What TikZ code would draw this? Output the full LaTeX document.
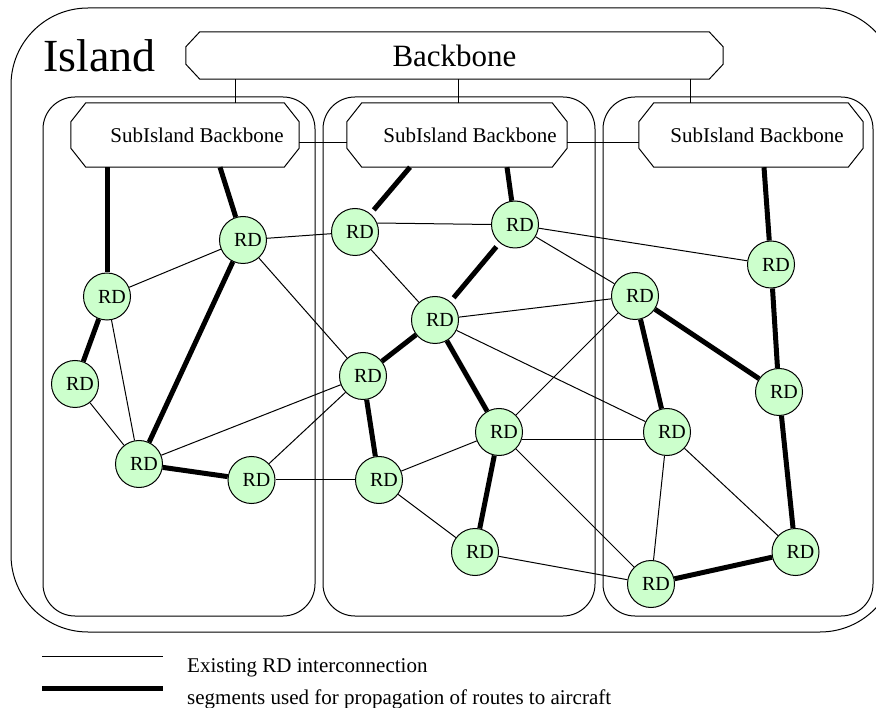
\documentclass[tikz,border=0pt]{standalone}
\usepackage{fontspec}
\setmainfont{Liberation Serif}
\definecolor{rdfill}{RGB}{204,255,204}
\pgfdeclarelayer{links}
\pgfsetlayers{links,main}
% outline of a box with cut corners around a named node
\newcommand{\octobox}[3]{%
  \draw[line width=1pt]
    ([xshift=#2]#1.north west) -- ([xshift=-#2]#1.north east)
    -- ([yshift=-#3]#1.north east) -- ([yshift=#3]#1.south east)
    -- ([xshift=-#2]#1.south east) -- ([xshift=#2]#1.south west)
    -- ([yshift=#3]#1.south west) -- ([yshift=-#3]#1.north west) -- cycle;}
\begin{document}
\begin{tikzpicture}[x=1pt,y=-1pt,
  thinlink/.style={line width=1pt},
  route/.style={line width=5pt},
  region/.style={draw, line width=1pt, rounded corners=32pt},
  rd/.style={circle, draw, line width=1pt, fill=rdfill, minimum size=47pt,
    inner sep=0pt, font=\fontsize{20}{20}\selectfont},
  backbone/.style={rectangle, inner sep=0pt,
    minimum width=537pt, minimum height=47pt, font=\fontsize{31}{31}\selectfont},
  subbackbone/.style={rectangle, inner sep=0pt, minimum height=64pt},
  sbtext/.style={font=\fontsize{21}{21}\selectfont, inner sep=0pt},
  legendtext/.style={anchor=base west, inner sep=0pt, font=\fontsize{21}{21}\selectfont}
]
\useasboundingbox (0,0) rectangle (876,708);

% island outline (continues past the right edge)
\begin{scope}
  \clip (0,0) rectangle (876,708);
  \draw[line width=1pt, rounded corners=77pt] (11,8) rectangle (897,632);
\end{scope}

% sub-island regions
\draw[region] (43,97) rectangle (315,616);
\draw[region] (323,97) rectangle (595,616);
\draw[region] (603,97) rectangle (873,616);

% titles and backbones
\node[anchor=base west, inner sep=0pt, font=\fontsize{46}{46}\selectfont] (island) at (43,72) {Island};
\node[backbone] (bb) at (454.5,55.5) {Backbone};
\node[subbackbone, minimum width=228pt,
  label={[sbtext, name=sb1t, xshift=12pt]center:SubIsland Backbone}] (sb1) at (185,135) {};
\node[subbackbone, minimum width=220pt,
  label={[sbtext, name=sb2t, xshift=13pt]center:SubIsland Backbone}] (sb2) at (457,135) {};
\node[subbackbone, minimum width=224pt,
  label={[sbtext, name=sb3t, xshift=6pt]center:SubIsland Backbone}] (sb3) at (751,135) {};
\octobox{bb}{14pt}{15pt}
\octobox{sb1}{15pt}{19pt}
\octobox{sb2}{15pt}{19pt}
\octobox{sb3}{15pt}{19pt}

% routing domains
\def\rdtext{\hspace*{10pt}RD}
\node[rd] (A) at (243,240) {\rdtext};
\node[rd] (B) at (107,296.5) {\rdtext};
\node[rd] (C) at (75,384) {\rdtext};
\node[rd] (D) at (139,464) {\rdtext};
\node[rd] (E) at (251.5,480) {\rdtext};
\node[rd] (F) at (355,232) {\rdtext};
\node[rd] (G) at (515,224.5) {\rdtext};
\node[rd] (H) at (435,320) {\rdtext};
\node[rd] (I) at (363,376) {\rdtext};
\node[rd] (J) at (499,432) {\rdtext};
\node[rd] (K) at (379,480) {\rdtext};
\node[rd] (L) at (635,296) {\rdtext};
\node[rd] (M) at (771,264.5) {\rdtext};
\node[rd] (N) at (779,392) {\rdtext};
\node[rd] (O) at (667,432) {\rdtext};
\node[rd] (P) at (475,552) {\rdtext};
\node[rd] (Q) at (651,584) {\rdtext};
\node[rd] (R) at (795.5,552) {\rdtext};

% drop points on the backbone
\coordinate (d1) at (235,0);
\coordinate (d2) at (458,0);
\coordinate (d3) at (690,0);

\begin{pgfonlayer}{links}
  % backbone to sub-island backbones
  \draw[thinlink] (d1 |- bb.south) -- (d1 |- sb1.north);
  \draw[thinlink] (d2 |- bb.south) -- (d2 |- sb2.north);
  \draw[thinlink] (d3 |- bb.south) -- (d3 |- sb3.north);
  \draw[thinlink] ([yshift=-8pt]sb1.east) -- ([yshift=-8pt]sb2.west);
  \draw[thinlink] ([yshift=-8pt]sb2.east) -- ([yshift=-8pt]sb3.west);

  % existing interconnections
  \draw[thinlink] (A) -- (B);
  \draw[thinlink] (B) -- (D);
  \draw[thinlink] (C) -- (D);
  \draw[thinlink] (A) -- (F);
  \draw[thinlink] (A) -- (I);
  \draw[thinlink] (D) -- (I);
  \draw[thinlink] (E) -- (I);
  \draw[thinlink] (E) -- (K);
  \draw[thinlink] (F.22) -- (G.180);
  \draw[thinlink] (F) -- (H);
  \draw[thinlink] (G) -- (M);
  \draw[thinlink] (G) -- (L);
  \draw[thinlink] (H) -- (L);
  \draw[thinlink] (H) -- (O);
  \draw[thinlink] (J) -- (L);
  \draw[thinlink] (J.-17) -- (O.197);
  \draw[thinlink] (K) -- (J);
  \draw[thinlink] (K) -- (P);
  \draw[thinlink] (J) -- (Q);
  \draw[thinlink] (P) -- (Q);
  \draw[thinlink] (O) -- (Q);
  \draw[thinlink] (O) -- (R);

  % route propagation segments
  \draw[route] (B |- sb1.south) -- (B);
  \draw[route] ([xshift=35pt]sb1.south) -- (A);
  \draw[route, shorten >=5pt] ([xshift=-47pt]sb2.south) -- (F);
  \draw[route] ([xshift=50pt]sb2.south) -- (G);
  \draw[route] ([xshift=13pt]sb3.south) -- (M);
  \draw[route] (B) -- (C);
  \draw[route] (A) -- (D);
  \draw[route] (D) -- (E);
  \draw[route, shorten <=5pt, shorten >=5pt] (G) -- (H);
  \draw[route] (H) -- (I);
  \draw[route] (H) -- (J);
  \draw[route] (I) -- (K);
  \draw[route] (J) -- (P);
  \draw[route] (L) -- (N);
  \draw[route] (M) -- (N);
  \draw[route] (L) -- (O);
  \draw[route] (N) -- (R);
  \draw[route] (Q) -- (R);
\end{pgfonlayer}

% legend
\coordinate (l1a) at (42,656);
\coordinate (l1b) at (163,656);
\coordinate (l2a) at (42,688);
\coordinate (l2b) at (163,688);
\draw[thinlink] (l1a) -- (l1b);
\draw[route] (l2a) -- (l2b);
\node[legendtext] (lt1) at (187,672) {Existing RD interconnection};
\node[legendtext] (lt2) at (187,704) {segments used for propagation of routes to aircraft};
\end{tikzpicture}
\end{document}
